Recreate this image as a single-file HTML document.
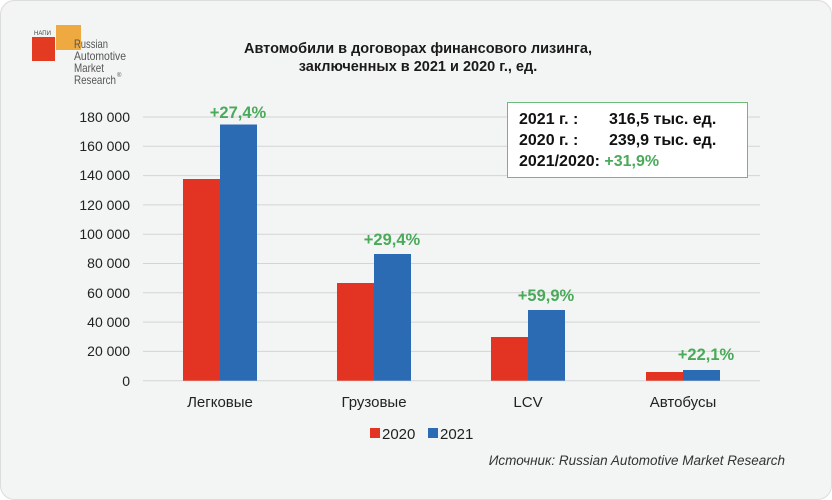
<!DOCTYPE html>
<html><head><meta charset="utf-8"><style>
body{margin:0;background:#fff;}
svg{display:block;font-family:"Liberation Sans",Arial,sans-serif;}
</style></head><body>
<svg width="832" height="500" viewBox="0 0 832 500">
<rect x="0.5" y="0.5" width="831" height="499" rx="14" fill="#f3f4f4" stroke="#dcdcdc"/>
<!-- logo -->
<rect x="56" y="25" width="25" height="25" fill="#eeaa40"/>
<rect x="32" y="37" width="23" height="24" fill="#e33a22"/>
<text x="34" y="35" font-size="6" fill="#444">НАПИ</text>
<g font-size="12" fill="#555">
<text x="74" y="48" textLength="34" lengthAdjust="spacingAndGlyphs">Russian</text>
<text x="74" y="60" textLength="52" lengthAdjust="spacingAndGlyphs">Automotive</text>
<text x="74" y="72" textLength="30" lengthAdjust="spacingAndGlyphs">Market</text>
<text x="74" y="84" textLength="42" lengthAdjust="spacingAndGlyphs">Research</text>
</g>
<text x="117" y="77" font-size="6" fill="#555">®</text>
<!-- title -->
<g font-size="14.5" font-weight="bold" fill="#1a1a1a" text-anchor="middle">
<text x="418" y="53">Автомобили в договорах финансового лизинга,</text>
<text x="418" y="71">заключенных в 2021 и 2020 г., ед.</text>
</g>
<!-- grid -->
<g stroke="#d4d4d4" stroke-width="1">
<line x1="143" x2="760" y1="117" y2="117"/><line x1="143" x2="760" y1="146.3" y2="146.3"/>
<line x1="143" x2="760" y1="175.6" y2="175.6"/><line x1="143" x2="760" y1="204.9" y2="204.9"/>
<line x1="143" x2="760" y1="234.2" y2="234.2"/><line x1="143" x2="760" y1="263.5" y2="263.5"/>
<line x1="143" x2="760" y1="292.8" y2="292.8"/><line x1="143" x2="760" y1="322.1" y2="322.1"/>
<line x1="143" x2="760" y1="351.4" y2="351.4"/><line x1="143" x2="760" y1="380.7" y2="380.7"/>
</g>
<g font-size="14" fill="#222" text-anchor="end">
<text x="130" y="122">180 000</text><text x="130" y="151">160 000</text><text x="130" y="180">140 000</text>
<text x="130" y="210">120 000</text><text x="130" y="239">100 000</text><text x="130" y="268">80 000</text>
<text x="130" y="298">60 000</text><text x="130" y="327">40 000</text><text x="130" y="356">20 000</text>
<text x="130" y="386">0</text>
</g>
<!-- bars -->
<g fill="#e33322">
<rect x="183" y="179" width="37" height="201.7"/>
<rect x="337" y="283" width="37" height="97.7"/>
<rect x="491" y="337" width="37" height="43.7"/>
<rect x="646" y="372" width="37" height="8.7"/>
</g>
<g fill="#2b6bb3">
<rect x="220" y="124.5" width="37" height="256.2"/>
<rect x="374" y="254" width="37" height="126.7"/>
<rect x="528" y="310" width="37" height="70.7"/>
<rect x="683" y="370" width="37" height="10.7"/>
</g>
<g font-size="16.5" font-weight="bold" fill="#4aaa5a" text-anchor="middle">
<text x="238" y="118">+27,4%</text><text x="392" y="245">+29,4%</text>
<text x="546" y="301">+59,9%</text><text x="706" y="360">+22,1%</text>
</g>
<g font-size="15" fill="#222" text-anchor="middle">
<text x="220" y="407">Легковые</text><text x="374" y="407">Грузовые</text>
<text x="528" y="407">LCV</text><text x="683" y="407">Автобусы</text>
</g>
<!-- legend -->
<rect x="370" y="428" width="10" height="10" fill="#e33322"/>
<text x="382" y="439" font-size="15" fill="#222">2020</text>
<rect x="428" y="428" width="10" height="10" fill="#2b6bb3"/>
<text x="440" y="439" font-size="15" fill="#222">2021</text>
<text x="785" y="465" font-size="13.5" font-style="italic" fill="#333" text-anchor="end">Источник: Russian Automotive Market Research</text>
<!-- box -->
<rect x="507.5" y="102.5" width="240" height="75" fill="#fff" stroke="#6dbb78"/>
<g font-size="16" font-weight="bold" fill="#111">
<text x="519" y="124">2021 г. :</text><text x="609" y="124">316,5 тыс. ед.</text>
<text x="519" y="145">2020 г. :</text><text x="609" y="145">239,9 тыс. ед.</text>
<text x="519" y="166">2021/2020: <tspan fill="#4aaa5a">+31,9%</tspan></text>
</g>
</svg>
</body></html>
